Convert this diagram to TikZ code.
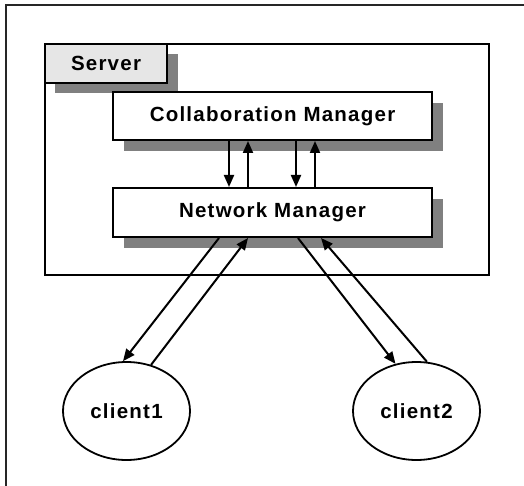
\documentclass[tikz,border=0pt]{standalone}
\usepackage{fontspec}
\newfontfamily\lblfont{Liberation Sans}[LetterSpace=6]
\usetikzlibrary{arrows.meta,shapes.geometric}
\definecolor{shadowgrey}{HTML}{808080}
\definecolor{labelgrey}{HTML}{E6E6E6}
\begin{document}
\begin{tikzpicture}[x=1pt,y=-1pt,
  lbl/.style={font=\lblfont\bfseries\fontsize{20.5}{24}\selectfont},
  boxnode/.style={draw=black,line width=2pt,fill=white,inner sep=0pt,lbl},
  shadowbox/.style={fill=shadowgrey},
  clientnode/.style={draw=black,line width=1.8pt,ellipse,fill=white,inner sep=0pt,
    minimum width=127pt,minimum height=98pt,lbl},
  arr/.style={line width=2pt,-{Triangle[length=12pt,width=10pt]}}]
\useasboundingbox (0,0) rectangle (524,486);
\clip (0,0) rectangle (524,486);
\fill[white] (0,0) rectangle (524,486);
% outer frame
\draw[line width=2pt,black!85] (6,5) rectangle (560,520);
% server box
\node[draw=black,line width=1.8pt,minimum width=444pt,minimum height=231pt,inner sep=0pt] (server) at (267,159.5) {};
% server label
\fill[shadowbox] (55,54) rectangle (178,93);
\node[boxnode,fill=labelgrey,minimum width=122pt,minimum height=39pt] (label) at (106,63.5) {Server};
% collaboration manager
\fill[shadowbox] (124,103) rectangle (443,151);
\node[boxnode,minimum width=319pt,minimum height=48pt] (cm) at (272.5,116) {Collaboration Manager};
% network manager
\fill[shadowbox] (124,199) rectangle (443,248);
\node[boxnode,minimum width=319pt,minimum height=49pt] (nm) at (272.5,212.5) {Network Manager};
% clients
\node[clientnode] (c1) at (126.5,411) {client1};
\node[clientnode] (c2) at (416.5,411) {client2};
% vertical arrow positions
\coordinate (v1) at (229,0);
\coordinate (v2) at (248,0);
\coordinate (v3) at (296,0);
\coordinate (v4) at (315,0);
\draw[arr] (cm.south -| v1) -- (nm.north -| v1);
\draw[arr] (nm.north -| v2) -- (cm.south -| v2);
\draw[arr] (cm.south -| v3) -- (nm.north -| v3);
\draw[arr] (nm.north -| v4) -- (cm.south -| v4);
% diagonal arrows
\coordinate (d1) at (219,0);
\coordinate (d2) at (248,0);
\coordinate (d3) at (298,0);
\coordinate (d4) at (321,0);
\draw[arr] (nm.south -| d1) -- (c1.94);
\draw[arr] (c1.62) -- (nm.south -| d2);
\draw[arr] (nm.south -| d3) -- (c2.114);
\draw[arr] (c2.78) -- (nm.south -| d4);
\end{tikzpicture}
\end{document}
